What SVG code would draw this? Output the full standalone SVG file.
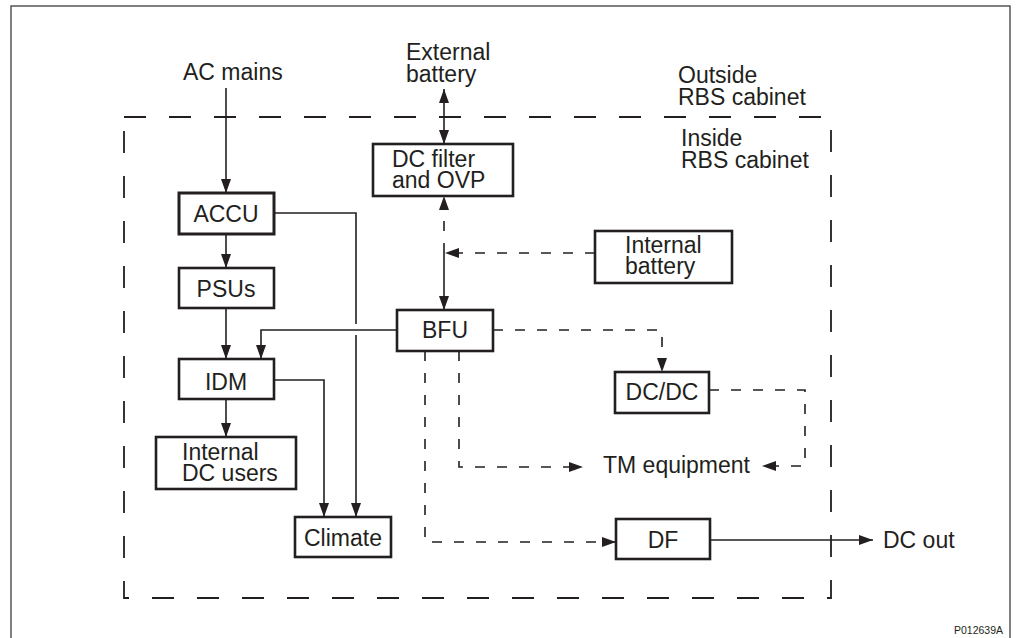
<svg xmlns="http://www.w3.org/2000/svg" width="1036" height="638" viewBox="0 0 1036 638">
<defs>
<style>
text{font-family:"Liberation Sans",Arial,Helvetica,sans-serif;font-size:23px;fill:#231f20}
.box{fill:#fff;stroke:#231f20;stroke-width:2.6}
.c{fill:none;stroke:#231f20;stroke-width:1.6}
.d{fill:none;stroke:#231f20;stroke-width:1.6;stroke-dasharray:10 12}
.mid{text-anchor:middle}
</style>
<marker id="ah" markerUnits="userSpaceOnUse" markerWidth="15" markerHeight="11" refX="14" refY="5" orient="auto-start-reverse">
<path d="M0,0 L14,5 L0,10 z" fill="#231f20"/>
</marker>
</defs>
<rect width="1036" height="638" fill="#fff"/>
<path d="M11,640 V6 H1010 V640" fill="none" stroke="#555" stroke-width="1.5"/>
<rect x="124" y="117" width="707" height="481" fill="none" stroke="#231f20" stroke-width="1.8" stroke-dasharray="22 23"/>
<g id="labels">
<text x="183" y="80">AC mains</text>
<text x="406" y="60">External</text>
<text x="406" y="82">battery</text>
<text x="678" y="83">Outside</text>
<text x="678" y="105">RBS cabinet</text>
<text x="681" y="146">Inside</text>
<text x="681" y="168">RBS cabinet</text>
<text x="603" y="473">TM equipment</text>
<text x="883" y="548">DC out</text>
<text x="1003" y="634" style="font-size:10.5px;text-anchor:end">P012639A</text>
</g>
<g id="connectors">
<path class="c" d="M226,88 V193" marker-end="url(#ah)"/>
<path class="c" d="M444,89 V144" marker-start="url(#ah)" marker-end="url(#ah)"/>
<path class="d" d="M444,253 V196" marker-end="url(#ah)"/>
<path class="c" d="M444,253 V310" marker-end="url(#ah)"/>
<path class="d" d="M595,253 H445" marker-end="url(#ah)"/>
<path class="c" d="M226,234 V268" marker-end="url(#ah)"/>
<path class="c" d="M226,308 V359" marker-end="url(#ah)"/>
<path class="c" d="M397,330 H261 V359" marker-end="url(#ah)"/>
<path class="c" d="M274,213 H356 V324 M356,335 V517" marker-end="url(#ah)"/>
<path class="c" d="M274,380 H324 V517" marker-end="url(#ah)"/>
<path class="c" d="M226,399 V437" marker-end="url(#ah)"/>
<path class="d" d="M493,330 H662 V372" marker-end="url(#ah)"/>
<path class="d" d="M709,390 H805 V466 H762" marker-end="url(#ah)"/>
<path class="d" d="M459,351 V467 H583" marker-end="url(#ah)"/>
<path class="d" d="M425,351 V542 H616" marker-end="url(#ah)"/>
<path class="c" d="M710,540 H873" marker-end="url(#ah)"/>
</g>
<g id="dcfilter">
<rect class="box" x="373" y="144" width="140" height="52"/>
<text x="392" y="167">DC filter</text>
<text x="392" y="188">and OVP</text>
</g>
<g id="accu">
<rect class="box" x="179" y="193" width="95" height="41" style="stroke-width:3"/>
<text class="mid" x="226" y="222">ACCU</text>
</g>
<g id="psus">
<rect class="box" x="179" y="268" width="95" height="40"/>
<text class="mid" x="226" y="297">PSUs</text>
</g>
<g id="intbattery">
<rect class="box" x="595" y="231" width="137" height="52"/>
<text x="625" y="253">Internal</text>
<text x="625" y="274">battery</text>
</g>
<g id="bfu">
<rect class="box" x="397" y="310" width="96" height="41"/>
<text class="mid" x="445" y="338">BFU</text>
</g>
<g id="idm">
<rect class="box" x="179" y="359" width="95" height="40"/>
<text class="mid" x="226" y="390">IDM</text>
</g>
<g id="intdcusers">
<rect class="box" x="156" y="437" width="140" height="52"/>
<text x="182" y="460">Internal</text>
<text x="182" y="481">DC users</text>
</g>
<g id="climate">
<rect class="box" x="295" y="517" width="96" height="40"/>
<text x="304" y="546">Climate</text>
</g>
<g id="dcdc">
<rect class="box" x="615" y="372" width="94" height="41"/>
<text class="mid" x="662" y="400">DC/DC</text>
</g>
<g id="df">
<rect class="box" x="616" y="519" width="94" height="40"/>
<text class="mid" x="663" y="548">DF</text>
</g>
</svg>
